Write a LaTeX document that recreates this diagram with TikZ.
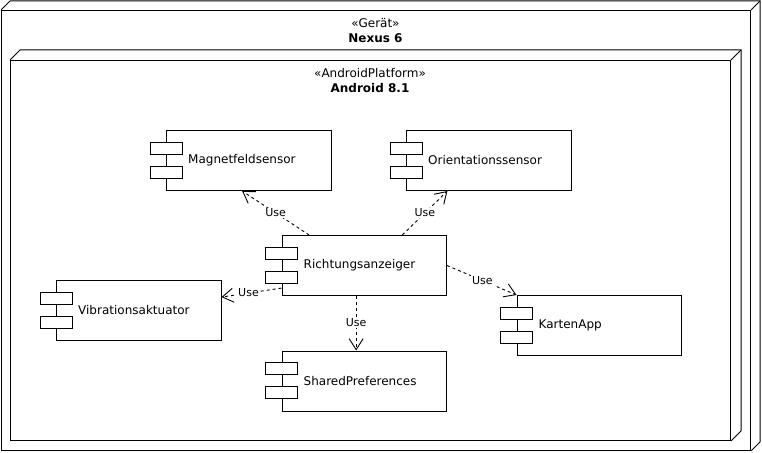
\documentclass[tikz,border=0pt]{standalone}
\usepackage{fontspec}
\setmainfont{DejaVu Sans}
\usetikzlibrary{arrows.meta,calc}
\newcommand\umlcomp[4]{%
  \node[compbody] (#1) at (#2,#3) {};
  \node[port] (#1p1) at ($(#1.north west)+(0,18)$) {};
  \node[port] (#1p2) at ($(#1.north west)+(0,42)$) {};
  \node[complabel] (#1l) at ($(#1.west)+(22,0)$) {#4};
}
\begin{document}
\begin{tikzpicture}[x=1pt,y=-1pt,
  box/.style={draw, line width=1pt, inner sep=0pt, anchor=north west},
  compbody/.style={box, fill=white, minimum width=164.5pt, minimum height=60pt},
  port/.style={draw, line width=1pt, fill=white, minimum width=32pt, minimum height=12pt, inner sep=0pt},
  complabel/.style={anchor=west, inner sep=0pt, font=\fontsize{12}{14}\selectfont},
  stereo/.style={inner sep=0pt, font=\fontsize{12}{14}\selectfont},
  titletext/.style={inner sep=0pt, font=\fontsize{12}{14}\selectfont\bfseries},
  edge3d/.style={line width=1pt, line join=miter},
  use/.style={draw, line width=0.9pt, dash pattern=on 3pt off 3pt,
    -{Straight Barb[length=11pt,width=14pt,line width=0.9pt]}},
  uselabel/.style={fill=white, inner sep=1pt, font=\fontsize{11}{13}\selectfont}
]
\useasboundingbox (0,0) rectangle (762,452);

% outer device node
\node[box, minimum width=749pt, minimum height=440pt] (nexus) at (1,10) {};
\draw[edge3d] (nexus.north west) -- ++(9,-9) -- ($(nexus.north east)+(9,-9)$)
  -- ($(nexus.south east)+(9,-9)$) -- (nexus.south east);
\draw[edge3d] (nexus.north east) -- ++(9,-9);
\node[stereo] (geraet) at (375.5,23) {«Gerät»};
\node[titletext] (nexusname) at (375.5,38) {Nexus 6};

% inner platform node
\node[box, minimum width=720pt, minimum height=380pt] (android) at (10,60) {};
\draw[edge3d] (android.north west) -- ++(10,-10) -- ($(android.north east)+(10,-10)$)
  -- ($(android.south east)+(10,-10)$) -- (android.south east);
\draw[edge3d] (android.north east) -- ++(10,-10);
\node[stereo] (platform) at (370,73) {«AndroidPlatform»};
\node[titletext] (androidname) at (370,88) {Android 8.1};

% components
\umlcomp{magnet}{166}{130}{Magnetfeldsensor}
\umlcomp{orient}{406}{130}{Orientationssensor}
\umlcomp{richt}{281.5}{235}{Richtungsanzeiger}
\umlcomp{vibr}{56}{280}{Vibrationsaktuator}
\umlcomp{karten}{516.5}{295}{KartenApp}
\umlcomp{shared}{281.5}{350.5}{SharedPreferences}

% dependencies
\draw[use] ($(richt.north west)!0.167!(richt.north east)$) -- node[uselabel, pos=0.5]{Use}
  ($(magnet.south west)!0.46!(magnet.south east)$);
\draw[use] ($(richt.north west)!0.73!(richt.north east)$) -- node[uselabel, pos=0.5]{Use}
  ($(orient.south west)!0.25!(orient.south east)$);
\draw[use] ($(richt.north west)!0.87!(richt.south west)$) -- node[uselabel, pos=0.55]{Use}
  ($(vibr.north east)!0.28!(vibr.south east)$);
\draw[use] (richt.east) -- node[uselabel, pos=0.51]{Use} (karten.north west);
\draw[use] ($(richt.south west)!0.451!(richt.south east)$) -- node[uselabel, pos=0.49]{Use}
  ($(shared.north west)!0.451!(shared.north east)$);
\end{tikzpicture}
\end{document}
